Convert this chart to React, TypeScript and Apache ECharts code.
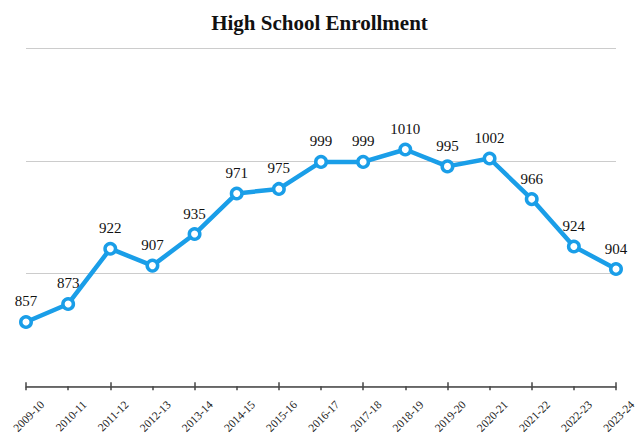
import React, { useEffect, useRef } from "react";
import * as echarts from "echarts";

const categories = ["2009-10","2010-11","2011-12","2012-13","2013-14","2014-15","2015-16","2016-17","2017-18","2018-19","2019-20","2020-21","2021-22","2022-23","2023-24"];
const enrollment = [857, 873, 922, 907, 935, 971, 975, 999, 999, 1010, 995, 1002, 966, 924, 904];
const title = "High School Enrollment";

export default function App() {
  const ref = useRef<HTMLDivElement>(null);
  useEffect(() => {
    const chart = echarts.init(ref.current!, null, { renderer: "svg" });
    chart.setOption({
      animation: false,
      backgroundColor: "#ffffff",
      title: {
        text: title,
        left: "center",
        top: 7,
        textStyle: { fontFamily: "Liberation Serif, serif", fontSize: 21, fontWeight: "bold", color: "#111" },
      },
      grid: { left: 26, right: 23, top: 48, bottom: 48 },
      xAxis: [
        {
          type: "category",
          data: categories,
          boundaryGap: false,
          axisLine: { lineStyle: { color: "#444", width: 1.5 } },
          axisTick: { show: true, length: 4, lineStyle: { color: "#444", width: 1.5 } },
          axisLabel: {
            rotate: 45,
            interval: 0,
            fontFamily: "Liberation Serif, serif",
            fontSize: 11.5,
            color: "#222",
            margin: 0,
            verticalAlign: "top",
            padding: [17, 0, 0, 0],
          },
          splitLine: { show: false },
        },
        {
          type: "category",
          data: categories,
          boundaryGap: false,
          position: "bottom",
          axisLine: { show: false },
          axisTick: { show: true, inside: true, length: 4, lineStyle: { color: "#444", width: 1.5 } },
          axisLabel: { show: false },
        },
      ],
      yAxis: {
        type: "value",
        min: 800,
        max: 1100,
        interval: 100,
        axisLabel: { show: false },
        axisLine: { show: false },
        axisTick: { show: false },
        splitLine: { lineStyle: { color: "#cccccc", width: 1.2 } },
      },
      series: [
        {
          type: "line",
          data: enrollment,
          lineStyle: { color: "#1a9ee8", width: 4.5 },
          itemStyle: { color: "#ffffff", borderColor: "#1a9ee8", borderWidth: 3.5 },
          symbol: "circle",
          symbolSize: 10.5,
          label: {
            show: true,
            position: "top",
            distance: 6,
            fontFamily: "Liberation Serif, serif",
            fontSize: 15,
            color: "#111",
          },
        },
      ],
    });
    return () => chart.dispose();
  }, []);
  return <div ref={ref} style={{ position: "fixed", left: 0, top: 0, width: 639, height: 436 }} />;
}
